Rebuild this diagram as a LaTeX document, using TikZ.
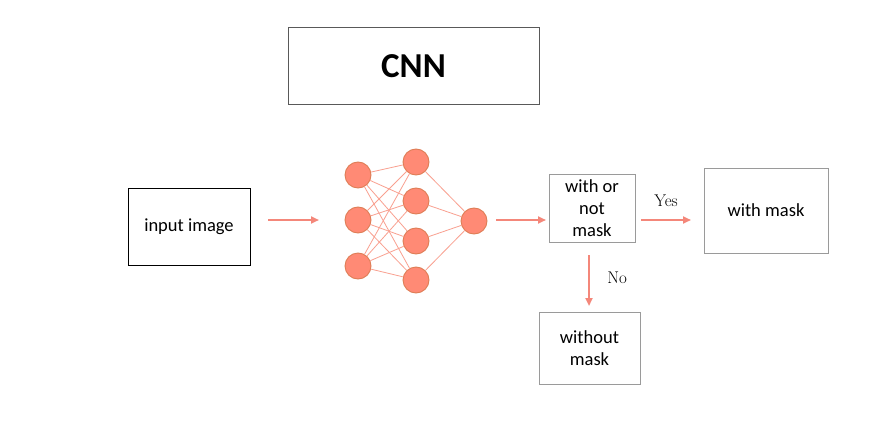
\documentclass[tikz,border=0pt]{standalone}
\usepackage{fontspec}
\setmainfont{Latin Modern Roman}
\newfontfamily\carl{Carlito}
\usetikzlibrary{arrows.meta}
\definecolor{arr}{HTML}{F4877A}
\definecolor{nfill}{HTML}{FF8A75}
\definecolor{ndraw}{HTML}{DE7D55}
\definecolor{nline}{HTML}{F9A090}
\definecolor{gbox}{HTML}{9A9A9A}
\tikzset{
  neuron/.style={circle,fill=nfill,draw=ndraw,line width=0.9pt,minimum size=26pt,inner sep=0pt},
  conn/.style={draw=nline,line width=0.8pt},
  flow/.style={draw=arr,line width=2pt,-{Triangle[length=8pt,width=7pt]}},
  txt/.style={font=\carl\fontsize{18.5}{22}\selectfont,align=center},
  graybox/.style={draw=gbox,line width=1pt,txt},
  lbl/.style={font=\fontsize{17}{20}\selectfont}
}
\begin{document}
\begin{tikzpicture}[x=1pt,y=-1pt]
\useasboundingbox[fill=white] (0,0) rectangle (883,433);
% CNN title
\node[draw=black!65,line width=1pt,minimum width=251pt,minimum height=77pt,font=\carl\bfseries\fontsize{35}{40}\selectfont] (cnn) at (413.5,66.5) {CNN};
% input image
\node[draw=black,line width=1pt,minimum width=122pt,minimum height=77pt,txt] (inp) at (189,226.5) {input image};
% neurons
\foreach \i/\y in {1/175,2/220,3/266} \node[neuron] (a\i) at (358,\y) {};
\foreach \i/\y in {1/162,2/201,3/241,4/280} \node[neuron] (b\i) at (416,\y) {};
\node[neuron] (c) at (474,221) {};
\foreach \i in {1,2,3} \foreach \j in {1,2,3,4} \draw[conn] (a\i) -- (b\j);
\foreach \j in {1,2,3,4} \draw[conn] (b\j) -- (c);
% decision boxes
\node[graybox,minimum width=86pt,minimum height=68pt,inner sep=1pt] (dec) at (592,208) {with or\\not\\mask};
\node[graybox,minimum width=124pt,minimum height=85pt] (wm) at (766,210.5) {with mask};
\node[graybox,minimum width=101pt,minimum height=72pt] (wom) at (589.5,348) {without\\mask};
% arrow coordinates
\coordinate (p1) at (268,220); \coordinate (p2) at (319,220);
\coordinate (p3) at (496,220); \coordinate (p4) at (546,220);
\coordinate (p5) at (641,220); \coordinate (p6) at (691,220);
\coordinate (p7) at (589,255); \coordinate (p8) at (589,306);
\draw[flow] (p1) -- (p2);
\draw[flow] (p3) -- (p4);
\draw[flow] (p5) -- node[lbl,above=9pt] (yes) {Yes} (p6);
\draw[flow] (p7) -- node[lbl,right=14pt,pos=0.45] (no) {No} (p8);
\end{tikzpicture}
\end{document}
